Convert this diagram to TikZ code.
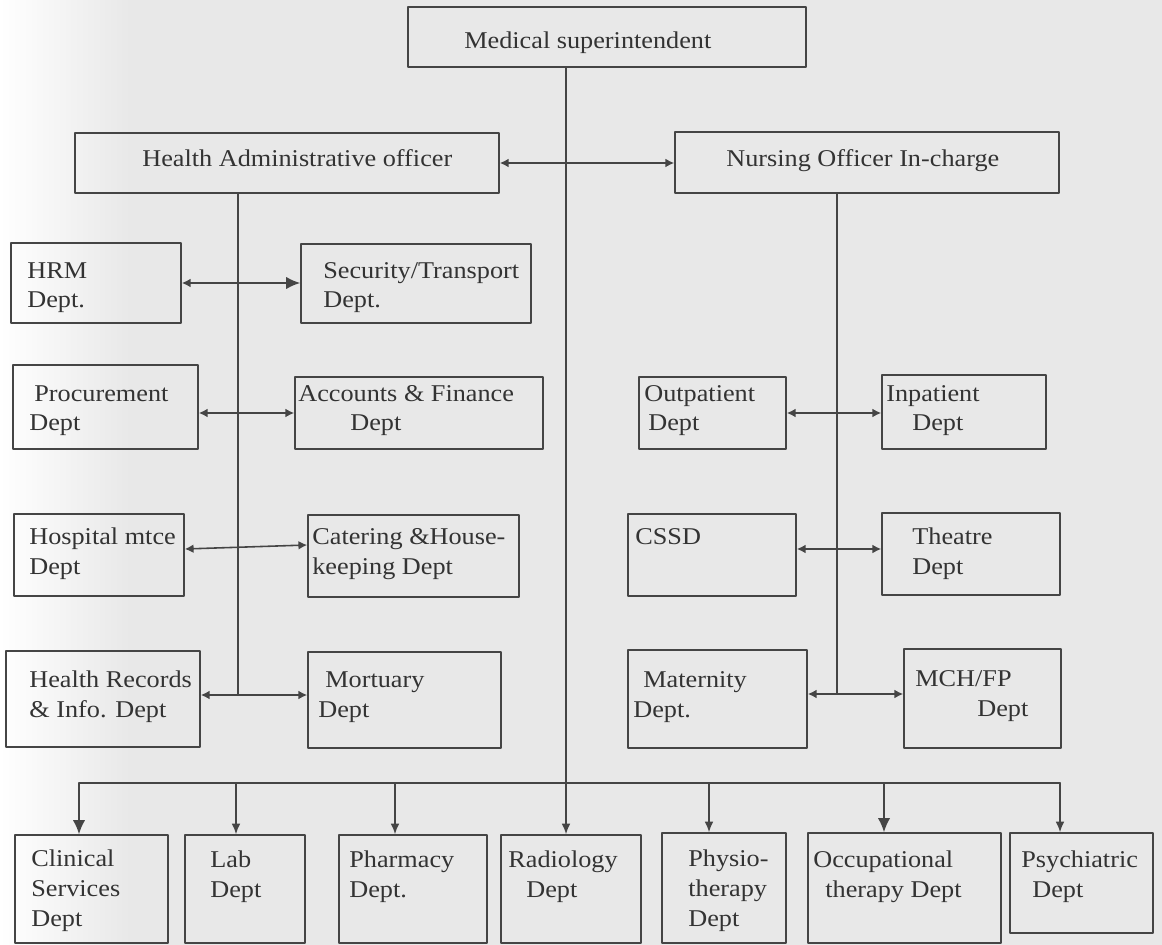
\documentclass[tikz,border=0pt]{standalone}
\usepackage{fontspec}
\setmainfont{Liberation Serif}[FakeStretch=1.09]
\usepackage[dvipsnames]{xcolor}
\usetikzlibrary{arrows.meta}
\usetikzlibrary{fit}
\usetikzlibrary{positioning}
\definecolor{paper}{rgb}{0.91,0.91,0.91}
\definecolor{ink}{rgb}{0.2,0.2,0.2}
\definecolor{wire}{rgb}{0.27,0.27,0.27}
\tikzset{
  deptbox/.style={draw=wire, line width=0.9pt, inner sep=0pt},
  depttext/.style={anchor=base west, inner sep=0pt, align=left, text=ink,
    font=\fontsize{13.7}{17}\selectfont},
  wireline/.style={draw=wire, line width=0.9pt},
  bothway/.style={wireline, {Latex[length=5pt,width=5pt]}-{Latex[length=5pt,width=5pt]}},
  feed/.style={wireline, -{Latex[length=6pt,width=5pt]}},
  bigfeed/.style={wireline, -{Latex[length=8pt,width=7pt]}}
}

\begin{document}
\begin{tikzpicture}[line cap=round,line join=round,x=0.02cm,y=-0.02cm]
\useasboundingbox (0,0) rectangle (1162,945);
\fill[paper] (0,0) rectangle (1162,945);
\shade[left color=white, right color=paper] (0,0) rectangle (130,945);
% top level
\node[deptbox, fit={(408,7) (806,67)}] (ms) {};
\node[deptbox, fit={(75,133) (499,193)}] (hao) {};
\node[deptbox, fit={(675,132) (1059,193)}] (noi) {};
% administration side
\node[deptbox, fit={(11,243) (181,323)}] (hrm) {};
\node[deptbox, fit={(301,244) (531,323)}] (sec) {};
\node[deptbox, fit={(13,365) (198,449)}] (proc) {};
\node[deptbox, fit={(295,377) (543,449)}] (acc) {};
\node[deptbox, fit={(14,514) (184,596)}] (hosp) {};
\node[deptbox, fit={(308,515) (519,597)}] (cat) {};
\node[deptbox, fit={(6,651) (200,747)}] (hrec) {};
\node[deptbox, fit={(308,652) (501,748)}] (mort) {};
% nursing side
\node[deptbox, fit={(639,377) (786,449)}] (outp) {};
\node[deptbox, fit={(882,375) (1046,449)}] (inp) {};
\node[deptbox, fit={(628,514) (796,596)}] (cssd) {};
\node[deptbox, fit={(882,513) (1060,595)}] (thea) {};
\node[deptbox, fit={(628,650) (807,748)}] (mat) {};
\node[deptbox, fit={(904,649) (1061,748)}] (mch) {};
% clinical row
\node[deptbox, fit={(15,835) (168,943)}] (clin) {};
\node[deptbox, fit={(185,835) (305,943)}] (lab) {};
\node[deptbox, fit={(339,835) (487,943)}] (pharm) {};
\node[deptbox, fit={(501,835) (641,943)}] (rad) {};
\node[deptbox, fit={(662,833) (786,943)}] (phys) {};
\node[deptbox, fit={(808,833) (1001,943)}] (occ) {};
\node[deptbox, fit={(1010,833) (1153,933)}] (psy) {};
% labels (base = last line)
\node[depttext] (msT) at (464,49) {Medical superintendent};
\node[depttext] (haoT) at (142,167) {Health Administrative officer};
\node[depttext] (noiT) at (726,167) {Nursing Officer In-charge};
\node[depttext] (hrmT) at (27,308) {HRM\\Dept.};
\node[depttext] (secT) at (323,308) {Security/Transport\\Dept.};
\node[depttext] (procT) at (29,431) {\hspace{0.1cm}Procurement\\Dept};
\node[depttext] (accT) at (298,431) {Accounts \& Finance\\\hspace{1.04cm}Dept};
\node[depttext] (hospT) at (29,574) {Hospital mtce\\Dept};
\node[depttext] (catT) at (312,574) {Catering \&House-\\keeping Dept};
\node[depttext] (hrecT) at (29,717) {Health Records\\\& Info. Dept};
\node[depttext] (mortT) at (318,717) {\hspace{0.14cm}Mortuary\\Dept};
\node[depttext] (outpT) at (644,431) {Outpatient\\\hspace{0.08cm}Dept};
\node[depttext] (inpT) at (886,431) {Inpatient\\\hspace{0.52cm}Dept};
\node[depttext] (cssdT) at (635,544) {CSSD};
\node[depttext] (theaT) at (912,574) {Theatre\\Dept};
\node[depttext] (matT) at (633,717) {\hspace{0.2cm}Maternity\\Dept.};
\node[depttext] (mchT) at (915,716) {MCH/FP\\\hspace{1.24cm}Dept};
\node[depttext] (clinT) at (31,926) {Clinical\\Services\\Dept};
\node[depttext] (labT) at (210,897) {Lab\\Dept};
\node[depttext] (pharmT) at (349,897) {Pharmacy\\Dept.};
\node[depttext] (radT) at (508,897) {Radiology\\\hspace{0.36cm}Dept};
\node[depttext] (physT) at (688,926) {Physio-\\therapy\\Dept};
\node[depttext] (occT) at (813,897) {Occupational\\\hspace{0.24cm}therapy Dept};
\node[depttext] (psyT) at (1021,897) {Psychiatric\\\hspace{0.22cm}Dept};
% trunk and bus
\coordinate (trunk) at (566,783);
\coordinate (busL) at (79,783);
\coordinate (busR) at (1060,783);
\draw[feed] (ms.south -| trunk) -- (trunk |- rad.north);
\draw[wireline] (busL) -- (busR);
\draw[bigfeed] (busL) -- (busL |- clin.north);
\draw[bigfeed] (884,783) -- (884,783 |- occ.north);
\foreach \b/\x in {lab/236, pharm/395, phys/709, psy/1060}
  \draw[feed] (\x,783) -- (\x,783 |- \b.north);
% officers
\draw[bothway] (hao.east) -- (hao.east -| noi.west);
\coordinate (hjoin) at (238,695);
\coordinate (njoin) at (837,694);
\draw[wireline] (hao.south -| hjoin) -- (hjoin);
\draw[wireline] (noi.south -| njoin) -- (njoin);
% pairs
\draw[wireline, {Latex[length=5pt,width=5pt]}-{Latex[length=8pt,width=7pt]}] (hrm.east) -- (hrm.east -| sec.west);
\draw[bothway] (acc.west -| proc.east) -- (acc.west);
\draw[bothway] (0,549 -| hosp.east) -- (0,545 -| cat.west);
\draw[bothway] (0,695 -| hrec.east) -- (0,695 -| mort.west);
\draw[bothway] (outp.east) -- (outp.east -| inp.west);
\draw[bothway] (0,549 -| cssd.east) -- (0,549 -| thea.west);
\draw[bothway] (0,694 -| mat.east) -- (0,694 -| mch.west);
\end{tikzpicture}
\end{document}
